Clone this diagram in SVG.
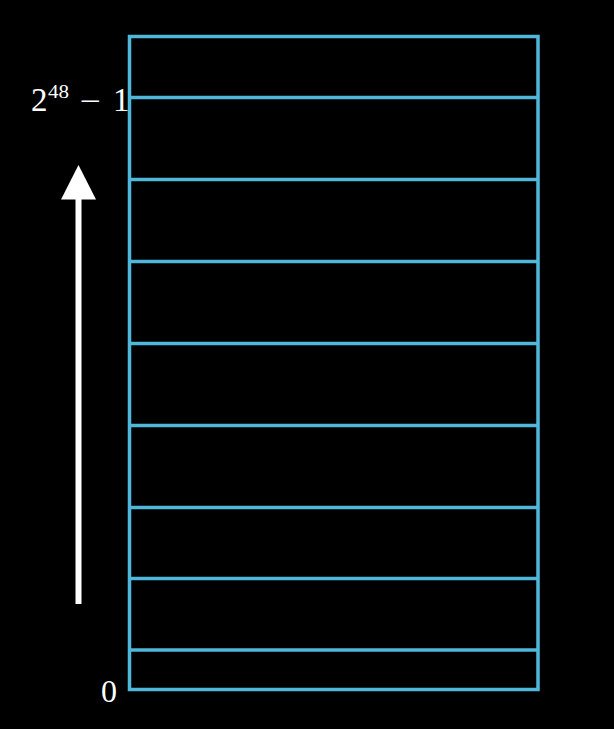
<svg xmlns="http://www.w3.org/2000/svg" width="614" height="729" viewBox="0 0 614 729">
<style>
.cell{fill:none;stroke:#4fb8da;stroke-width:3.5}
.lbl{font-family:"Liberation Serif","DejaVu Serif",serif;fill:#ffffff}
</style>
<rect x="0" y="0" width="614" height="729" fill="#000000"/>
<g id="memory">
<rect class="cell" x="129.5" y="36.5" width="408.5" height="653"/>
<line class="cell" x1="129.5" y1="97.5" x2="538" y2="97.5"/>
<line class="cell" x1="129.5" y1="179.5" x2="538" y2="179.5"/>
<line class="cell" x1="129.5" y1="261.5" x2="538" y2="261.5"/>
<line class="cell" x1="129.5" y1="343.5" x2="538" y2="343.5"/>
<line class="cell" x1="129.5" y1="425.5" x2="538" y2="425.5"/>
<line class="cell" x1="129.5" y1="507.5" x2="538" y2="507.5"/>
<line class="cell" x1="129.5" y1="578.5" x2="538" y2="578.5"/>
<line class="cell" x1="129.5" y1="650" x2="538" y2="650"/>
</g>
<g id="connectors">
<line x1="78.5" y1="604" x2="78.5" y2="196" stroke="#ffffff" stroke-width="6"/>
<polygon points="78.5,165 61,199.5 96,199.5" fill="#ffffff"/>
</g>
<g id="label-top">
<text class="lbl" x="31" y="111" font-size="33">2</text>
<text class="lbl" x="48" y="98" font-size="18" textLength="21" lengthAdjust="spacingAndGlyphs">48</text>
<text class="lbl" x="80" y="111" font-size="30" textLength="21" lengthAdjust="spacingAndGlyphs">−</text>
<text class="lbl" x="113" y="111" font-size="33">1</text>
</g>
<g id="label-bottom">
<text class="lbl" x="101" y="702" font-size="32">0</text>
</g>
</svg>
